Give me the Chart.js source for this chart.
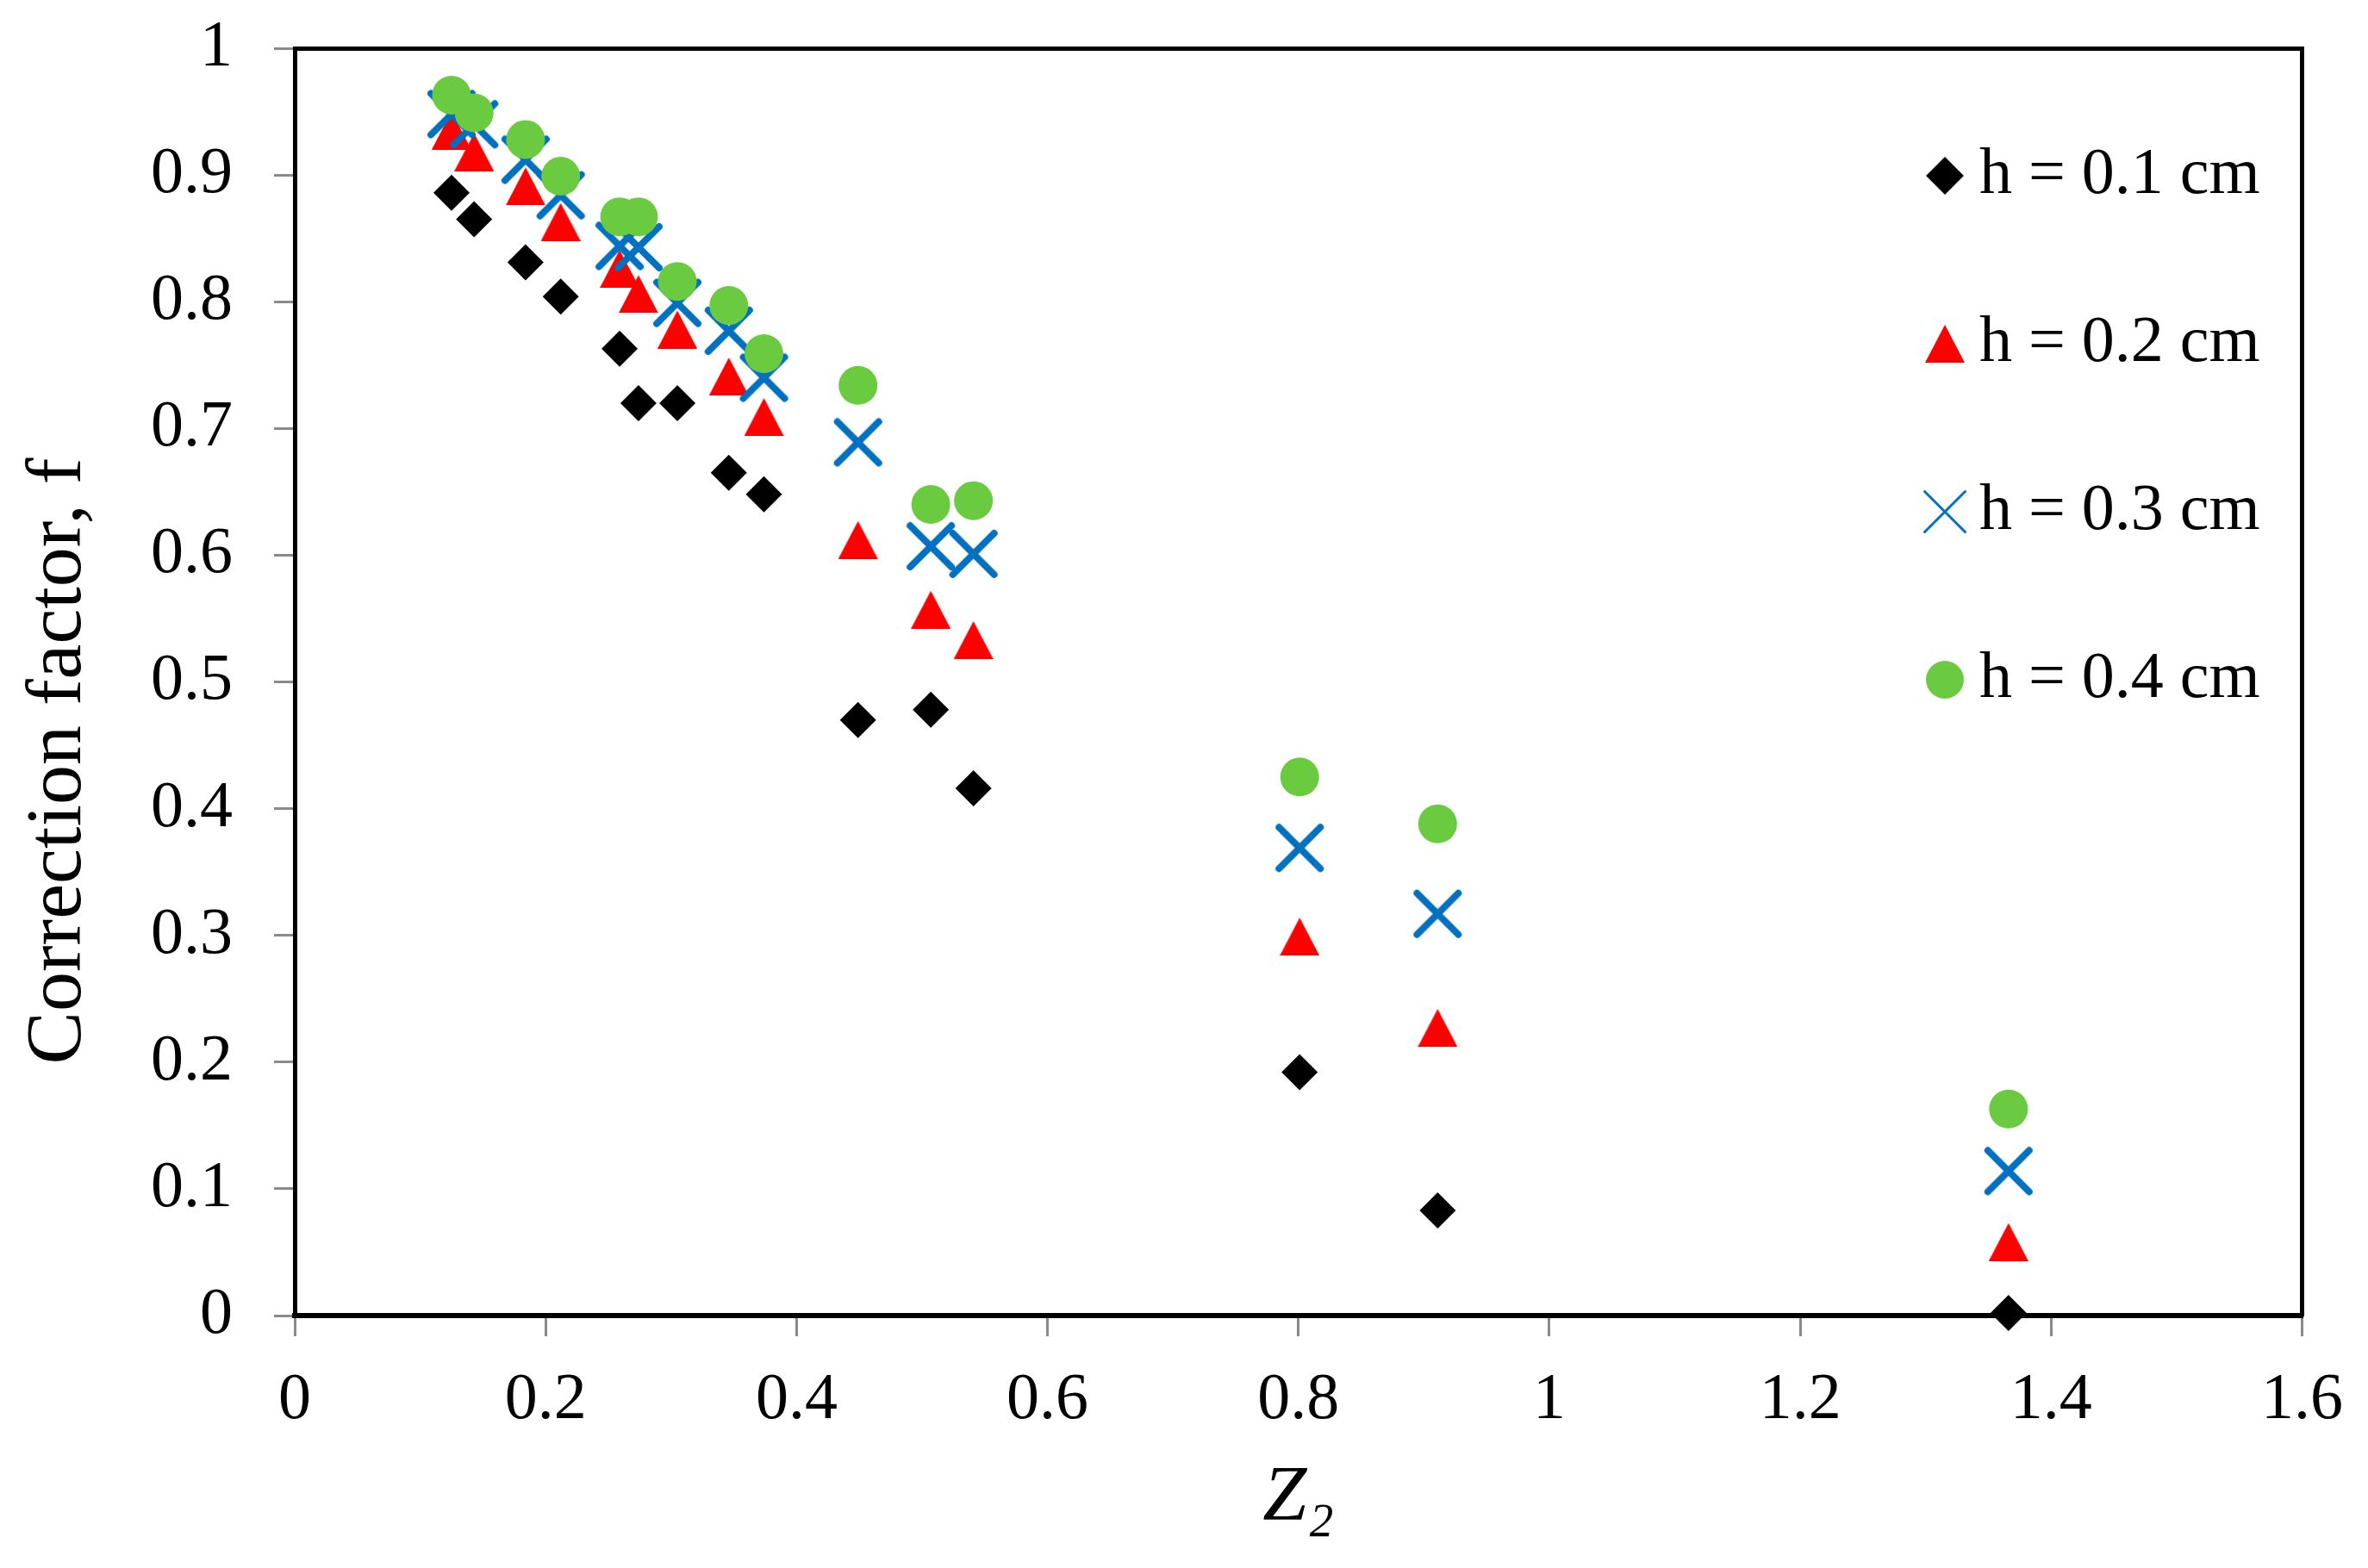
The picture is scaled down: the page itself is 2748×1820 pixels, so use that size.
<!DOCTYPE html>
<html>
<head>
<meta charset="utf-8">
<title>Correction factor vs Z2</title>
<script src="https://cdn.jsdelivr.net/npm/chart.js@4.4.1/dist/chart.umd.min.js"></script>
<style>
    html, body { margin: 0; padding: 0; background: #fff; }
    #wrap { width: 2748px; height: 1820px; }
</style>
</head>
<body>
<div id="wrap"><canvas id="chart"></canvas></div>
<script>
// values
let z2 = [0.125, 0.143, 0.184, 0.212, 0.259, 0.274, 0.305, 0.346, 0.374, 0.449, 0.507, 0.541, 0.801, 0.911, 1.366];
let fH01 = [0.886, 0.865, 0.831, 0.804, 0.763, 0.720, 0.720, 0.665, 0.648, 0.470, 0.478, 0.416, 0.192, 0.083, 0.002];
let fH02 = [0.935, 0.918, 0.891, 0.863, 0.826, 0.806, 0.778, 0.741, 0.709, 0.612, 0.557, 0.533, 0.299, 0.227, 0.058];
let fH03 = [0.948, 0.940, 0.912, 0.884, 0.844, 0.843, 0.799, 0.777, 0.740, 0.689, 0.607, 0.601, 0.369, 0.317, 0.114];
let fH04 = [0.963, 0.949, 0.928, 0.899, 0.867, 0.867, 0.816, 0.797, 0.759, 0.734, 0.640, 0.643, 0.425, 0.388, 0.163];
let seriesNames = ["h = 0.1 cm", "h = 0.2 cm", "h = 0.3 cm", "h = 0.4 cm"];

let xRange = [0, 1.6];
let xStep = 0.2;
let yRange = [0, 1];
let yStep = 0.1;

const SERIF = "'Liberation Serif', 'Times New Roman', serif";
const BLUE = "#0070C0";
const GREEN = "#6BCB40";

/* marker images */
function triangleImg(w, h, color) {
    let c = document.createElement("canvas");
    c.width = w;
    c.height = h;
    let g = c.getContext("2d");
    g.fillStyle = color;
    g.beginPath();
    g.moveTo(w / 2, 0);
    g.lineTo(w, h);
    g.lineTo(0, h);
    g.closePath();
    g.fill();
    return c;
}

function crossImg(size, lw, color) {
    let c = document.createElement("canvas");
    c.width = size;
    c.height = size;
    let g = c.getContext("2d");
    let a = lw / 2 + 1;
    g.strokeStyle = color;
    g.lineWidth = lw;
    g.lineCap = "round";
    g.beginPath();
    g.moveTo(a, a);
    g.lineTo(size - a, size - a);
    g.moveTo(size - a, a);
    g.lineTo(a, size - a);
    g.stroke();
    return c;
}

let redTri = triangleImg(46, 44, "#FF0000");
let blueX = crossImg(58, 8, BLUE);
let blueXThin = crossImg(52, 3, BLUE);

function pts(ys) {
    return z2.map((x, i) => ({ x: x, y: ys[i] }));
}

function tickText(v) {
    return String(Math.round(v * 10) / 10);
}

// legend sits inside the plot box, like the original
const legendSpot = {
    id: "legendSpot",
    afterLayout(chart) {
        let lg = chart.legend;
        let area = chart.chartArea;
        lg.left = 2136;
        lg.top = 47;
        lg.right = area.right;
        lg.bottom = area.bottom;
        lg.width = lg.right - lg.left;
        lg.height = lg.bottom - lg.top;
    }
};

new Chart(document.getElementById("chart"), {
    type: "scatter",
    data: {
        datasets: [
            {
                label: seriesNames[0],
                data: pts(fH01),
                pointStyle: "rectRot",
                pointRadius: 21,
                pointBackgroundColor: "#000000",
                pointBorderWidth: 0,
                order: 3
            },
            {
                label: seriesNames[1],
                data: pts(fH02),
                pointStyle: redTri,
                pointRadius: 22,
                pointBackgroundColor: "#FF0000",
                pointBorderWidth: 0,
                order: 2
            },
            {
                label: seriesNames[2],
                data: pts(fH03),
                pointStyle: blueX,
                pointRadius: 28,
                pointBackgroundColor: BLUE,
                pointBorderColor: BLUE,
                pointBorderWidth: 0,
                order: 1
            },
            {
                label: seriesNames[3],
                data: pts(fH04),
                pointStyle: "circle",
                pointRadius: 22.5,
                pointBackgroundColor: GREEN,
                pointBorderWidth: 0,
                order: 0
            }
        ]
    },
    options: {
        responsive: true,
        maintainAspectRatio: false,
        animation: false,
        events: [],
        clip: false,
        layout: {
            padding: { top: 56, right: 71, bottom: 0, left: 0 }
        },
        scales: {
            x: {
                type: "linear",
                position: "bottom",
                min: xRange[0],
                max: xRange[1],
                afterFit: (s) => { s.height = 293; },
                ticks: {
                    stepSize: xStep,
                    padding: 29,
                    color: "#000",
                    font: { family: SERIF, size: 76 },
                    callback: tickText
                },
                grid: {
                    display: true,
                    drawOnChartArea: false,
                    drawTicks: true,
                    tickLength: 24,
                    color: "#8a8a8a",
                    lineWidth: 3
                },
                border: { display: true, color: "#000", width: 6 },
                title: {
                    display: true,
                    text: "Z\u2082",
                    color: "#000",
                    font: { family: SERIF, size: 92, style: "italic" },
                    padding: { top: 0, bottom: 25 }
                }
            },
            y: {
                type: "linear",
                position: "left",
                min: yRange[0],
                max: yRange[1],
                afterFit: (s) => {
                    s.width = 342;
                    s.paddingTop = 0;
                    s.paddingBottom = 0;
                },
                ticks: {
                    stepSize: yStep,
                    padding: 48,
                    color: "#000",
                    font: { family: SERIF, size: 76 },
                    callback: tickText
                },
                grid: {
                    display: true,
                    drawOnChartArea: false,
                    drawTicks: true,
                    tickLength: 24,
                    color: "#8a8a8a",
                    lineWidth: 3
                },
                border: { display: true, color: "#000", width: 5 },
                title: {
                    display: true,
                    text: "Correction factor, f        ",
                    color: "#000",
                    font: { family: SERIF, size: 92 },
                    padding: { top: 14, bottom: 0 }
                }
            },
            xTop: {
                type: "linear",
                position: "top",
                min: xRange[0],
                max: xRange[1],
                afterFit: (s) => { s.height = 0; },
                ticks: { display: false },
                grid: { display: false, drawTicks: false },
                border: { display: true, color: "#000", width: 5 }
            },
            yRight: {
                type: "linear",
                position: "right",
                min: yRange[0],
                max: yRange[1],
                afterFit: (s) => { s.width = 0; },
                ticks: { display: false },
                grid: { display: false, drawTicks: false },
                border: { display: true, color: "#000", width: 5 }
            }
        },
        plugins: {
            tooltip: { enabled: false },
            legend: {
                display: true,
                position: "right",
                align: "start",
                maxWidth: 1,
                labels: {
                    usePointStyle: true,
                    boxWidth: 4,
                    boxHeight: 31,
                    padding: 119,
                    color: "#000",
                    font: { family: SERIF, size: 76 },
                    sort: (a, b) => a.datasetIndex - b.datasetIndex,
                    generateLabels(chart) {
                        let items = Chart.defaults.plugins.legend.labels.generateLabels(chart);
                        items.forEach(it => {
                            it.lineWidth = 0;
                            if (it.datasetIndex === 2) it.pointStyle = blueXThin;
                        });
                        return items;
                    }
                }
            }
        }
    },
    plugins: [legendSpot]
});
</script>
</body>
</html>
